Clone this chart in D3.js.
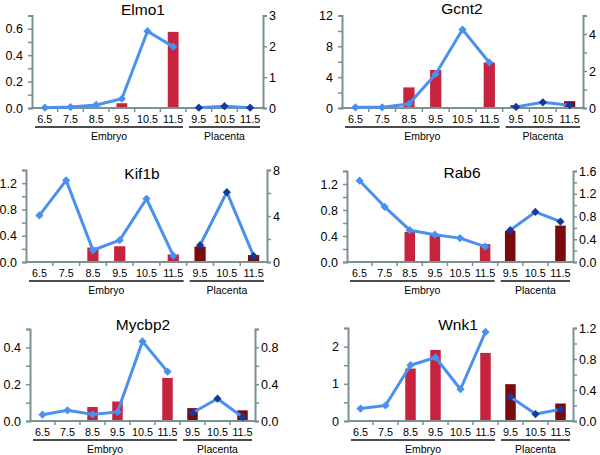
<!DOCTYPE html>
<html>
<head>
<meta charset="utf-8">
<script src="https://cdn.jsdelivr.net/npm/d3@7"></script>
<style>
  html, body { margin: 0; padding: 0; background: #fff; }
  svg { display: block; font-family: 'Liberation Sans', Arial, sans-serif; }
</style>
</head>
<body>
<svg id="chart" width="600" height="455"></svg>
<script>
// x categories (days), grouped by tissue
const categories = ['6.5', '7.5', '8.5', '9.5', '10.5', '11.5', '9.5', '10.5', '11.5'];
const tissues = ['Embryo', 'Embryo', 'Embryo', 'Embryo', 'Embryo', 'Embryo', 'Placenta', 'Placenta', 'Placenta'];
const genes = ['Elmo1', 'Gcnt2', 'Kif1b', 'Rab6', 'Mycbp2', 'Wnk1'];

// bar values (left axis) and line values (right axis), one per category
const elmo1Bars = [0, 0, 0.01, 0.036, 0, 0.576, 0.006, 0, 0.006];
const elmo1Line = [0.01, 0.03, 0.1, 0.3, 2.49, 1.99, 0.01, 0.06, 0.01];
const gcnt2Bars = [0, 0, 2.67, 4.93, 0, 5.9, 0.35, 0, 0.88];
const gcnt2Line = [0.04, 0.04, 0.22, 1.84, 4.24, 2.46, 0.06, 0.31, 0.15];
const kif1bBars = [0, 0, 0.22, 0.24, 0, 0.115, 0.235, 0, 0.105];
const kif1bLine = [4.05, 7.1, 1.02, 1.9, 5.5, 0.55, 1.46, 6.07, 0.53];
const rab6Bars = [0, 0, 0.464, 0.42, 0, 0.275, 0.48, 0, 0.56];
const rab6Line = [1.43, 0.97, 0.56, 0.48, 0.42, 0.27, 0.56, 0.88, 0.71];
const mycbp2Bars = [0, 0, 0.076, 0.106, 0, 0.234, 0.07, 0, 0.058];
const mycbp2Line = [0.069, 0.116, 0.072, 0.097, 0.865, 0.537, 0.09, 0.242, 0.043];
const wnk1Bars = [0, 0, 1.41, 1.91, 0, 1.83, 0.99, 0, 0.47];
const wnk1Line = [0.16, 0.2, 0.72, 0.82, 0.41, 1.15, 0.31, 0.09, 0.15];

// axis ticks (all tick marks) and which of them carry a label
const elmo1LeftTicks = [0, 0.1, 0.2, 0.3, 0.4, 0.5, 0.6, 0.7], elmo1LeftLabels = [0, 0.2, 0.4, 0.6];
const elmo1RightTicks = [0, 1, 2, 3], elmo1RightLabels = [0, 1, 2, 3];
const gcnt2LeftTicks = [0, 2, 4, 6, 8, 10, 12], gcnt2LeftLabels = [0, 4, 8, 12];
const gcnt2RightTicks = [0, 1, 2, 3, 4, 5], gcnt2RightLabels = [0, 2, 4];
const kif1bLeftTicks = [0, 0.2, 0.4, 0.6, 0.8, 1.0, 1.2, 1.4], kif1bLeftLabels = [0, 0.4, 0.8, 1.2];
const kif1bRightTicks = [0, 2, 4, 6, 8], kif1bRightLabels = [0, 4, 8];
const rab6LeftTicks = [0, 0.2, 0.4, 0.6, 0.8, 1.0, 1.2, 1.4], rab6LeftLabels = [0, 0.4, 0.8, 1.2];
const rab6RightTicks = [0, 0.2, 0.4, 0.6, 0.8, 1.0, 1.2, 1.4, 1.6], rab6RightLabels = [0, 0.4, 0.8, 1.2, 1.6];
const mycbp2LeftTicks = [0, 0.1, 0.2, 0.3, 0.4, 0.5], mycbp2LeftLabels = [0, 0.2, 0.4];
const mycbp2RightTicks = [0, 0.2, 0.4, 0.6, 0.8, 1.0], mycbp2RightLabels = [0, 0.4, 0.8];
const wnk1LeftTicks = [0, 0.5, 1, 1.5, 2, 2.5], wnk1LeftLabels = [0, 1, 2];
const wnk1RightTicks = [0, 0.2, 0.4, 0.6, 0.8, 1.0, 1.2], wnk1RightLabels = [0, 0.4, 0.8, 1.2];

const panels = [
  { bars: elmo1Bars, line: elmo1Line, lt: elmo1LeftTicks, ll: elmo1LeftLabels, lf: '.1f', rt: elmo1RightTicks, rl: elmo1RightLabels, rf: 'd' },
  { bars: gcnt2Bars, line: gcnt2Line, lt: gcnt2LeftTicks, ll: gcnt2LeftLabels, lf: 'd', rt: gcnt2RightTicks, rl: gcnt2RightLabels, rf: 'd' },
  { bars: kif1bBars, line: kif1bLine, lt: kif1bLeftTicks, ll: kif1bLeftLabels, lf: '.1f', rt: kif1bRightTicks, rl: kif1bRightLabels, rf: 'd' },
  { bars: rab6Bars, line: rab6Line, lt: rab6LeftTicks, ll: rab6LeftLabels, lf: '.1f', rt: rab6RightTicks, rl: rab6RightLabels, rf: '.1f' },
  { bars: mycbp2Bars, line: mycbp2Line, lt: mycbp2LeftTicks, ll: mycbp2LeftLabels, lf: '.1f', rt: mycbp2RightTicks, rl: mycbp2RightLabels, rf: '.1f' },
  { bars: wnk1Bars, line: wnk1Line, lt: wnk1LeftTicks, ll: wnk1LeftLabels, lf: 'd', rt: wnk1RightTicks, rl: wnk1RightLabels, rf: '.1f' }
];

// plot frame of each panel (left/right axis x, top/bottom y) and title position
const layout = [
  { left: 32, right: 263, top: 15.5, bottom: 108, tx: 143, ty: 15 },
  { left: 342, right: 583, top: 15.5, bottom: 108, tx: 462, ty: 14 },
  { left: 26, right: 267, top: 170, bottom: 262, tx: 142, ty: 179 },
  { left: 347, right: 573, top: 171, bottom: 262, tx: 462, ty: 178 },
  { left: 30, right: 255, top: 329, bottom: 421, tx: 143, ty: 329.5 },
  { left: 348, right: 573, top: 328, bottom: 421, tx: 458, ty: 330 }
];

const axisColor = '#7b9292';
const embryoBar = '#c6233f';
const placentaBar = '#7a0b0c';
const lineColor = '#4a90ef';
const darkDiamond = '#163a9c';

const svg = d3.select('#chart');
const diamond = d3.symbol().type(d3.symbolSquare).size(34);

panels.forEach((p, i) => {
  const L = layout[i];
  const g = svg.append('g').attr('class', 'panel');
  const idx = d3.range(categories.length);

  const x = d3.scaleBand().domain(idx).range([L.left, L.right]).padding(0);
  const yL = d3.scaleLinear().domain([0, d3.max(p.lt)]).range([L.bottom, L.top]);
  const yR = d3.scaleLinear().domain([0, d3.max(p.rt)]).range([L.bottom, L.top]);
  const bw = x.bandwidth() * 0.42;

  // bars
  g.append('g').selectAll('rect')
    .data(idx.filter(k => p.bars[k] > 0))
    .join('rect')
    .attr('x', k => x(k) + (x.bandwidth() - bw) / 2)
    .attr('width', bw)
    .attr('y', k => yL(p.bars[k]))
    .attr('height', k => yL(0) - yL(p.bars[k]))
    .attr('fill', k => tissues[k] === 'Embryo' ? embryoBar : placentaBar);

  // category baseline with ticks between categories
  g.append('line')
    .attr('x1', L.left).attr('x2', L.right)
    .attr('y1', L.bottom).attr('y2', L.bottom)
    .attr('stroke', axisColor).attr('stroke-width', 2);
  g.append('g').selectAll('line')
    .data(idx.slice(1))
    .join('line')
    .attr('x1', k => x(k)).attr('x2', k => x(k))
    .attr('y1', L.bottom).attr('y2', L.bottom + 4)
    .attr('stroke', axisColor).attr('stroke-width', 1.5);

  // y axes
  const fL = d3.format(p.lf), fR = d3.format(p.rf);
  const leftAxis = d3.axisLeft(yL).tickValues(p.lt).tickSize(4).tickPadding(5)
    .tickFormat(v => p.ll.some(l => Math.abs(l - v) < 1e-9) ? fL(v) : '');
  const rightAxis = d3.axisRight(yR).tickValues(p.rt).tickSize(4).tickPadding(2)
    .tickFormat(v => p.rl.some(l => Math.abs(l - v) < 1e-9) ? fR(v) : '');

  [[leftAxis, L.left], [rightAxis, L.right]].forEach(([ax, px]) => {
    const a = g.append('g').attr('transform', `translate(${px},0)`).call(ax);
    a.select('.domain').attr('stroke', axisColor).attr('stroke-width', 2);
    a.selectAll('.tick line').attr('stroke', axisColor).attr('stroke-width', 1.5);
    a.selectAll('.tick text').attr('fill', '#000').style('font-size', '12.5px');
  });

  // line, drawn as separate embryo and placenta segments
  const lineGen = d3.line().x(k => x(k) + x.bandwidth() / 2).y(k => yR(p.line[k]));
  ['Embryo', 'Placenta'].forEach(t => {
    const seg = idx.filter(k => tissues[k] === t);
    g.append('path')
      .attr('d', lineGen(seg))
      .attr('fill', 'none')
      .attr('stroke', lineColor)
      .attr('stroke-width', 3)
      .attr('stroke-linejoin', 'round');
  });
  g.append('g').selectAll('path')
    .data(idx)
    .join('path')
    .attr('d', diamond)
    .attr('transform', k => `translate(${x(k) + x.bandwidth() / 2},${yR(p.line[k])}) rotate(45)`)
    .attr('fill', k => tissues[k] === 'Embryo' ? lineColor : darkDiamond);

  // category labels
  g.append('g').selectAll('text')
    .data(idx)
    .join('text')
    .attr('x', k => x(k) + x.bandwidth() / 2)
    .attr('y', L.bottom + 14.5)
    .attr('text-anchor', 'middle')
    .style('font-size', '10.8px')
    .text(k => categories[k]);

  // tissue group underline + label
  ['Embryo', 'Placenta'].forEach(t => {
    const seg = idx.filter(k => tissues[k] === t);
    const x0 = x(seg[0]) + 3, x1 = x(seg[seg.length - 1]) + x.bandwidth() - 3;
    g.append('line')
      .attr('x1', x0).attr('x2', x1)
      .attr('y1', L.bottom + 19).attr('y2', L.bottom + 19)
      .attr('stroke', '#111').attr('stroke-width', 1.3);
    g.append('text')
      .attr('x', (x0 + x1) / 2)
      .attr('y', L.bottom + 31.5)
      .attr('text-anchor', 'middle')
      .style('font-size', '10.5px')
      .text(t);
  });

  // title
  g.append('text')
    .attr('x', L.tx).attr('y', L.ty)
    .attr('text-anchor', 'middle')
    .style('font-size', '15.5px')
    .text(genes[i]);
});
</script>
</body>
</html>
